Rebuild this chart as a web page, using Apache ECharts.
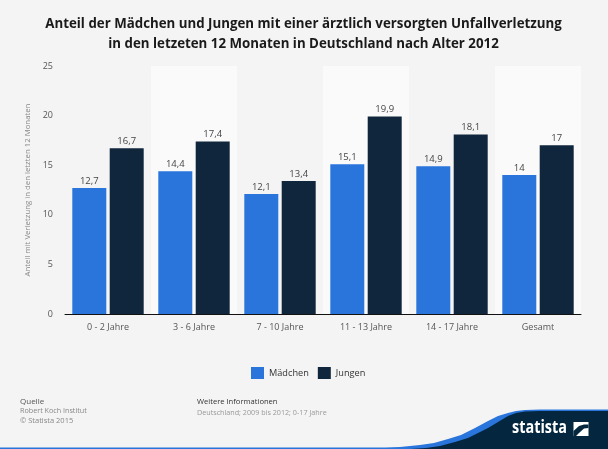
<!DOCTYPE html>
<html>
<head>
<meta charset="utf-8">
<style>
html, body { margin: 0; padding: 0; background: #f4f4f4; }
#chart { width: 608px; height: 449px; }
</style>
<script src="https://cdn.jsdelivr.net/npm/echarts@6/dist/echarts.min.js"></script>
</head>
<body>
<div id="chart"></div>
<script>
var categories = ['0 - 2 Jahre', '3 - 6 Jahre', '7 - 10 Jahre', '11 - 13 Jahre', '14 - 17 Jahre', 'Gesamt'];
var maedchen = [12.7, 14.4, 12.1, 15.1, 14.9, 14];
var jungen = [16.7, 17.4, 13.4, 19.9, 18.1, 17];
var yTicks = [0, 5, 10, 15, 20, 25];

var font = '"Open Sans", sans-serif';

function komma(p) {
	return String(p.value).replace('.', ',');
}

var myChart = echarts.init(document.getElementById('chart'));
myChart.setOption({
	backgroundColor: '#f4f4f4',
	animation: false,
	textStyle: { fontFamily: font },
	title: {
		text: 'Anteil der Mädchen und Jungen mit einer ärztlich versorgten Unfallverletzung\nin den letzeten 12 Monaten in Deutschland nach Alter 2012',
		left: 298.5,
		top: 9,
		textAlign: 'center',
		textStyle: { fontFamily: font, fontSize: 13.3, fontWeight: 'bold', color: '#1a1a1a', lineHeight: 20 }
	},
	legend: {
		data: ['Mädchen', 'Jungen'],
		left: 251,
		top: 367,
		padding: 0,
		icon: 'rect',
		itemWidth: 13,
		itemHeight: 12,
		itemGap: 9,
		textStyle: { fontFamily: font, fontSize: 9.2, color: '#333' }
	},
	grid: { left: 65, right: 27, top: 66, bottom: 135 },
	xAxis: {
		type: 'category',
		data: categories,
		axisTick: { show: false },
		axisLine: { lineStyle: { color: '#111', width: 1 } },
		axisLabel: { fontSize: 9, color: '#555', margin: 9 },
		splitArea: { show: true, areaStyle: { color: ['#f4f4f4', '#fafafa'] } }
	},
	yAxis: {
		type: 'value',
		min: yTicks[0],
		max: yTicks[yTicks.length - 1],
		interval: 5,
		name: 'Anteil mit Verletzung in den letzten 12 Monaten',
		nameLocation: 'middle',
		nameGap: 28,
		nameTextStyle: { fontSize: 7.8, color: '#888' },
		axisLine: { show: false },
		axisTick: { show: false },
		axisLabel: { fontSize: 9, color: '#555', margin: 12 },
		splitLine: { lineStyle: { type: 'dotted', color: '#ccc' } }
	},
	series: [
		{
			name: 'Mädchen',
			type: 'bar',
			data: maedchen,
			barWidth: 34,
			barGap: '10%',
			itemStyle: { color: '#2a75dc' },
			label: { show: true, position: 'top', distance: 2, fontSize: 9.5, color: '#444', formatter: komma }
		},
		{
			name: 'Jungen',
			type: 'bar',
			data: jungen,
			barWidth: 34,
			itemStyle: { color: '#10263c' },
			label: { show: true, position: 'top', distance: 2, fontSize: 9.5, color: '#444', formatter: komma }
		}
	],
	graphic: {
		elements: [
			// footer wave
			{ type: 'polygon', silent: true, z: 1, shape: { points: [[370, 449], [400, 447], [420, 445], [434, 443], [448, 439], [461, 435], [475, 428], [488, 421], [498, 416], [508, 413], [516, 411], [525, 410], [540, 409.5], [608, 409.5], [608, 449]] }, style: { fill: '#2a75dc' } },
			{ type: 'polygon', silent: true, z: 2, shape: { points: [[410, 449], [426, 448], [440, 446], [455, 442], [468, 438], [478, 433], [488, 428], [498, 422], [508, 416], [516, 413], [525, 411.5], [540, 411], [608, 411], [608, 449]] }, style: { fill: '#04263f' } },
			{ type: 'rect', silent: true, z: 1, shape: { x: 0, y: 447.5, width: 400, height: 1.5 }, style: { fill: '#2a75dc' } },
			// logo
			{ type: 'text', z: 3, x: 512, y: 420, scaleX: 0.85, style: { text: 'statista', fill: '#fff', font: 'bold 17px "Open Sans", sans-serif' } },
			{ type: 'rect', silent: true, z: 3, shape: { x: 573.5, y: 422, width: 15, height: 14 }, style: { fill: '#fff' } },
			{ type: 'polygon', silent: true, z: 4, shape: { points: [[573.5, 431], [579, 426], [584, 424.5], [588.5, 424.5], [588.5, 428], [584, 428.5], [579, 433], [576, 436], [573.5, 436]] }, style: { fill: '#04263f' } },
			// footer text
			{ type: 'text', x: 20, y: 398, style: { text: 'Quelle', fill: '#555', font: '8px "Open Sans", sans-serif' } },
			{ type: 'text', x: 20, y: 407, style: { text: 'Robert Koch Institut', fill: '#888', font: '7.2px "Open Sans", sans-serif' } },
			{ type: 'text', x: 20, y: 417, style: { text: '© Statista 2015', fill: '#888', font: '7.5px "Open Sans", sans-serif' } },
			{ type: 'text', x: 197, y: 398, style: { text: 'Weitere Informationen', fill: '#333', font: '7.6px "Open Sans", sans-serif' } },
			{ type: 'text', x: 197, y: 409, style: { text: 'Deutschland; 2009 bis 2012; 0-17 Jahre', fill: '#999', font: '7.2px "Open Sans", sans-serif' } }
		]
	}
});
</script>
</body>
</html>
